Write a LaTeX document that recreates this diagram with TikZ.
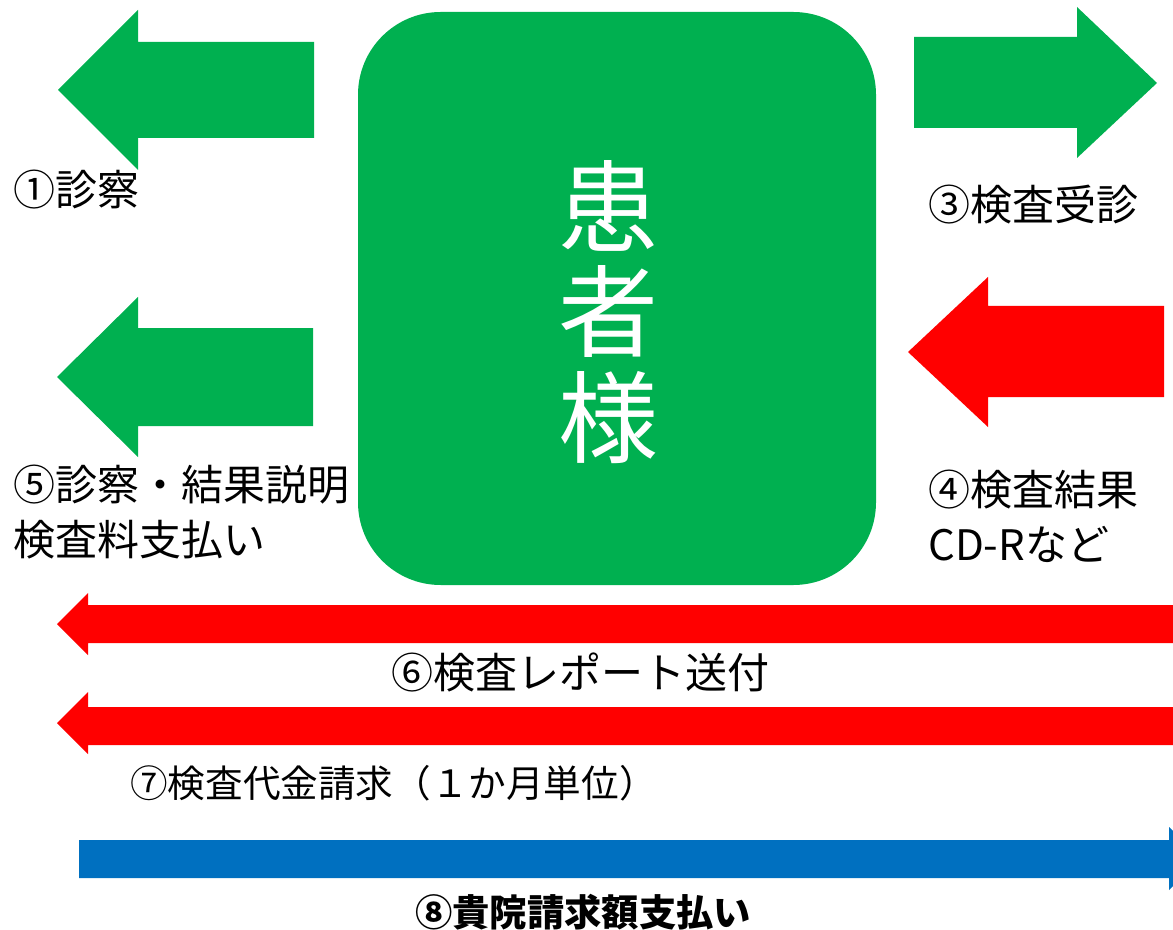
\documentclass[tikz,border=0pt]{standalone}
\usepackage{fontspec}
\setmainfont{Noto Sans CJK JP}
\definecolor{pgreen}{HTML}{00B050}
\definecolor{pred}{HTML}{FF0000}
\definecolor{pblue}{HTML}{0070C0}
\begin{document}
\begin{tikzpicture}[x=0.75pt,y=-0.75pt,
  lbl/.style={inner sep=0pt,font=\fontsize{31.5}{41}\selectfont,text=black},
  smalllbl/.style={inner sep=0pt,font=\fontsize{28.2}{34}\selectfont,text=black},
  boldlbl/.style={inner sep=0pt,font=\fontsize{28}{34}\selectfont\bfseries,text=black},
  garrow/.style={fill=pgreen,draw=none},
  rarrow/.style={fill=pred,draw=none},
  barrow/.style={fill=pblue,draw=none}]
\useasboundingbox (0,0) rectangle (1173,930);
% patient box
\fill[pgreen,rounded corners=62] (358,12) rectangle (876,585);
\node[inner sep=0pt,text=white,align=center,font=\fontsize{75}{79}\selectfont] (patient) at (608,312) {患\\者\\様};
% arrow 1 (left, green)
\fill[garrow] (314,42) -- (138,42) -- (138,10) -- (58,90) -- (138,170) -- (138,138) -- (314,138) -- cycle;
\node[lbl,anchor=west] (l1) at (13,190) {①診察};
% arrow 5 (left, green)
\fill[garrow] (313,328) -- (138,328) -- (138,297) -- (57,377) -- (138,457) -- (138,426) -- (313,426) -- cycle;
\node[lbl,anchor=west,align=left] (l5) at (13,512) {⑤診察・結果説明\\検査料支払い};
% arrow 3 (right, green)
\fill[garrow] (914,37) -- (1077,37) -- (1077,7) -- (1157,83) -- (1077,158) -- (1077,128) -- (914,128) -- cycle;
\node[lbl,anchor=west] (l3) at (928,205) {③検査受診};
% arrow 4 (left, red)
\fill[rarrow] (1164,306) -- (988,306) -- (988,277) -- (908,352) -- (988,427) -- (988,397) -- (1164,397) -- cycle;
\node[lbl,anchor=west,align=left] (l4) at (928,516) {④検査結果\\CD-Rなど};
% arrow 6 (long, red)
\fill[rarrow] (1173,605) -- (88,605) -- (88,593) -- (57,624) -- (88,655) -- (88,643) -- (1173,643) -- cycle;
\node[lbl] (l6) at (580,672) {⑥検査レポート送付};
% arrow 7 (long, red)
\fill[rarrow] (1173,707) -- (88,707) -- (88,692) -- (57,723) -- (88,754) -- (88,745) -- (1173,745) -- cycle;
\node[smalllbl,anchor=west] (l7) at (130,783) {⑦検査代金請求（１か月単位）};
% arrow 8 (long, blue)
\begin{scope}
\clip (0,0) rectangle (1173,930);
\fill[barrow] (79,840) -- (1169,840) -- (1169,827) -- (1201,859) -- (1169,890) -- (1169,878) -- (79,878) -- cycle;
\end{scope}
\node[boldlbl] (l8) at (583,912) {⑧貴院請求額支払い};
\end{tikzpicture}
\end{document}
